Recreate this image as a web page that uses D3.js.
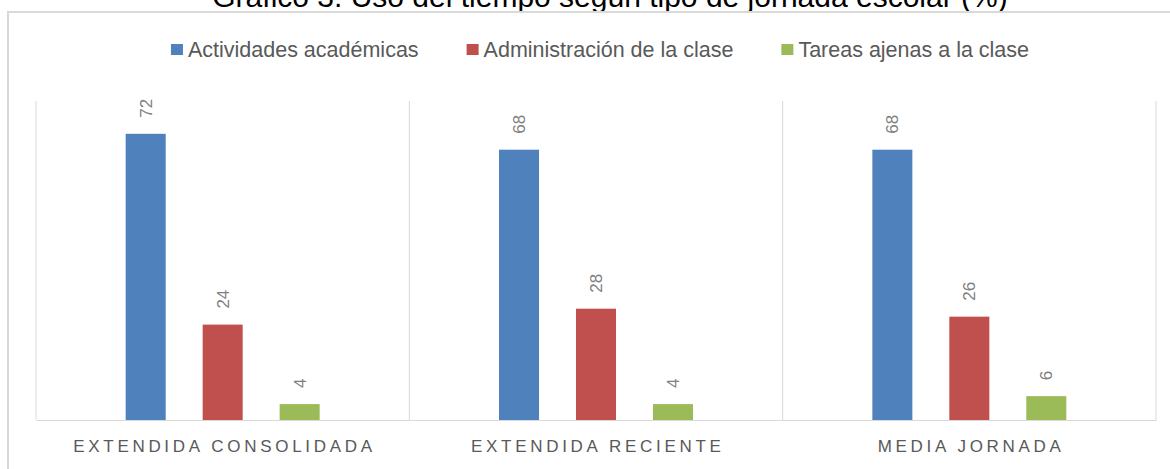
<!DOCTYPE html>
<html lang="es">
  <head>
    <meta charset="utf-8">
    <title>Gráfico 3. Uso del tiempo según tipo de jornada escolar (%)</title>
    <script src="https://d3js.org/d3.v7.min.js"></script>
    <style>
      body { margin: 0; background: white; }
      text { font-family: "Liberation Sans", Arial, sans-serif; }
    </style>
  </head>
  <body>
    <script>
      // data
      var jornadas = ["EXTENDIDA CONSOLIDADA", "EXTENDIDA RECIENTE", "MEDIA JORNADA"];
      var series = ["Actividades académicas", "Administración de la clase", "Tareas ajenas a la clase"];
      var colores = ["#4f81bd", "#c0504d", "#9bbb59"];
      var academicas = [72, 68, 68];
      var administracion = [24, 28, 26];
      var ajenas = [4, 4, 6];
      var valores = [academicas, administracion, ajenas];

      var w = 1170, h = 469;
      var margin = {top: 102, right: 14, bottom: 49, left: 36};

      var svg = d3.select("body").append("svg")
          .attr("width", w)
          .attr("height", h);

      // title, cut by the top edge like in the source
      svg.append("text")
          .attr("x", 610)
          .attr("y", 7)
          .attr("text-anchor", "middle")
          .attr("font-size", 30)
          .attr("fill", "#000")
          .text("Gráfico 3. Uso del tiempo según tipo de jornada escolar (%)");

      // chart frame
      svg.append("path")
          .attr("d", "M8," + (h + 2) + "V12H" + (w + 2))
          .attr("fill", "none")
          .attr("stroke", "#d9d9d9")
          .attr("stroke-width", 2);

      var x0 = d3.scaleBand()
          .domain(jornadas)
          .range([margin.left, w - margin.right]);

      var x1 = d3.scaleBand()
          .domain(series)
          .range([0, x0.bandwidth()])
          .paddingInner(0.48)
          .paddingOuter(1.165);

      var y = d3.scaleLinear()
          .domain([0, 80])
          .range([h - margin.bottom, margin.top]);

      // category separators
      var seps = x0.domain().map(function(d) { return x0(d); }).concat([x0.range()[1]]);
      svg.append("g").selectAll("line")
          .data(seps)
        .enter().append("line")
          .attr("x1", d => d).attr("x2", d => d)
          .attr("y1", y(0)).attr("y2", y.range()[1] - 1)
          .attr("stroke", "#d9d9d9");

      var groups = svg.append("g").selectAll("g")
          .data(jornadas)
        .enter().append("g")
          .attr("transform", d => "translate(" + x0(d) + ",0)");

      groups.selectAll("rect")
          .data(function(d, i) { return series.map(function(s, j) { return {serie: s, v: valores[j][i], c: colores[j]}; }); })
        .enter().append("rect")
          .attr("x", d => x1(d.serie))
          .attr("y", d => y(d.v))
          .attr("width", x1.bandwidth())
          .attr("height", d => y(0) - y(d.v))
          .attr("fill", d => d.c);

      groups.selectAll("text")
          .data(function(d, i) { return series.map(function(s, j) { return {serie: s, v: valores[j][i]}; }); })
        .enter().append("text")
          .attr("transform", d => "translate(" + (x1(d.serie) + x1.bandwidth() / 2) + "," + (y(d.v) - 16) + ") rotate(-90)")
          .attr("dy", "0.35em")
          .attr("font-size", 17)
          .attr("fill", "#808080")
          .text(d => d.v);

      // x axis
      var xAxis = d3.axisBottom(x0).tickSize(0).tickPadding(20);
      var ax = svg.append("g")
          .attr("transform", "translate(0," + y(0) + ")")
          .call(xAxis);
      ax.select(".domain").attr("stroke", "#d9d9d9");
      ax.selectAll("text")
          .attr("font-family", "Liberation Sans, Arial, sans-serif")
          .attr("font-size", 17)
          .attr("fill", "#595959")
          .attr("dx", "1.8px")
          .style("letter-spacing", "3.7px");

      // legend
      var legend = svg.append("g");
      var lx = 0;
      series.forEach(function(s, j) {
        legend.append("rect")
            .attr("x", lx).attr("y", 44)
            .attr("width", 12).attr("height", 11)
            .attr("fill", colores[j]);
        var t = legend.append("text")
            .attr("x", lx + 17).attr("y", 57)
            .attr("font-size", 21.5)
            .attr("fill", "#595959")
            .text(s);
        lx += 17 + t.node().getComputedTextLength() + 48;
      });
      var lw = lx - 48;
      legend.attr("transform", "translate(" + (600 - lw / 2) + ",0)");
    </script>
  </body>
</html>
